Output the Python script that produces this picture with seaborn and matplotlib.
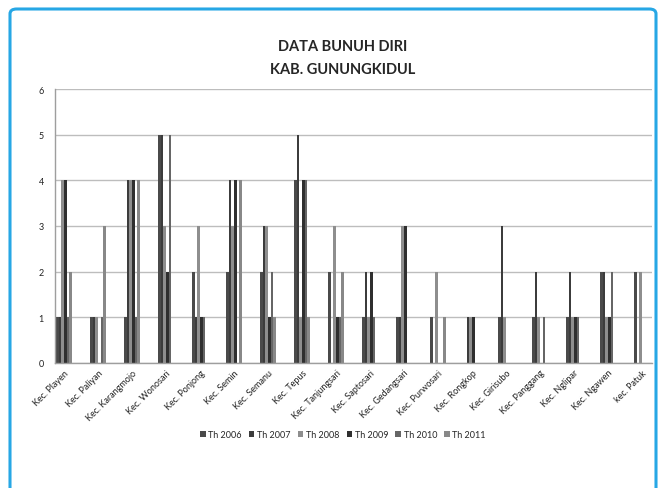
import matplotlib.pyplot as plt
import matplotlib.patches as patches
import pandas as pd
import seaborn as sns

kecamatan = [
    "Kec. Playen", "Kec. Paliyan", "Kec. Karangmojo", "Kec. Wonosari",
    "Kec. Ponjong", "Kec. Semin", "Kec. Semanu", "Kec. Tepus",
    "Kec. Tanjungsari", "Kec. Saptosari", "Kec. Gedangsari", "Kec. Purwosari",
    "Kec. Rongkop", "Kec. Girisubo", "Kec. Panggang", "Kec. Nglipar",
    "Kec. Ngawen", "kec. Patuk",
]
years = ["Th 2006", "Th 2007", "Th 2008", "Th 2009", "Th 2010", "Th 2011"]

th2006 = [1, 1, 1, 5, 2, 2, 2, 4, 2, 1, 1, 1, 0, 1, 1, 1, 2, 2]
th2007 = [1, 1, 4, 5, 1, 4, 3, 5, 0, 2, 1, 0, 1, 3, 2, 2, 2, 0]
th2008 = [4, 1, 4, 3, 3, 3, 3, 1, 3, 1, 3, 2, 1, 1, 1, 1, 1, 2]
th2009 = [4, 0, 4, 2, 1, 4, 1, 4, 1, 2, 3, 0, 1, 0, 0, 1, 1, 0]
th2010 = [1, 1, 1, 5, 1, 0, 2, 4, 1, 1, 0, 0, 0, 0, 1, 1, 2, 0]
th2011 = [2, 3, 4, 0, 0, 4, 1, 1, 2, 0, 0, 1, 0, 0, 0, 0, 0, 0]

colors = ["#4a4a4a", "#3c3c3c", "#8e8e8e", "#2f2f2f", "#666666", "#888888"]

series = [th2006, th2007, th2008, th2009, th2010, th2011]
rows = []
for year, vals in zip(years, series):
    for kec, v in zip(kecamatan, vals):
        rows.append({"kecamatan": kec, "tahun": year, "jumlah": v})
df = pd.DataFrame(rows)

sns.set_style("white")
plt.rcParams["font.family"] = ["Lato", "DejaVu Sans"]

fig = plt.figure(figsize=(6.63, 4.89), dpi=100)
ax = fig.add_axes([55 / 663, 1 - 364 / 489, 597 / 663, 274 / 489])

sns.barplot(
    data=df, x="kecamatan", y="jumlah", hue="tahun",
    palette=colors, width=0.47, errorbar=None, linewidth=0, ax=ax,
)

ax.set_ylim(0, 6)
ax.set_yticks(range(0, 7))
ax.set_xlim(-0.265, 17.29)
ax.yaxis.grid(True, color="#bdbdbd", linewidth=1)
ax.set_axisbelow(True)
ax.set_xlabel("")
ax.set_ylabel("")
for side in ["top", "right"]:
    ax.spines[side].set_visible(False)
for side in ["left", "bottom"]:
    ax.spines[side].set_color("#9e9e9e")
    ax.spines[side].set_linewidth(1)
ax.tick_params(axis="both", length=0, labelsize=6.5, colors="#222222")
ax.tick_params(axis="y", pad=8)
plt.setp(ax.get_xticklabels(), rotation=45, ha="right", rotation_mode="anchor")

ax.legend(
    loc="center", bbox_to_anchor=(343 / 663, 1 - 436 / 489),
    bbox_transform=fig.transFigure, ncol=6, frameon=False, fontsize=6.5,
    handlelength=0.6, handleheight=0.6, handletextpad=0.3, columnspacing=0.8,
)

fig.text(343 / 663, 1 - 47 / 489, "DATA BUNUH DIRI", ha="center", va="center",
         fontsize=10.5, fontweight="bold")
fig.text(343 / 663, 1 - 70 / 489, "KAB. GUNUNGKIDUL", ha="center", va="center",
         fontsize=10.5, fontweight="bold")

border = patches.FancyBboxPatch(
    (10 / 663, -0.02), 646 / 663, 1 - 10 / 489 + 0.02,
    boxstyle="round,pad=0,rounding_size=0.01",
    transform=fig.transFigure, fill=False, edgecolor="#27a7e5", linewidth=2.2,
)
fig.patches.append(border)

fig.savefig("out.png", dpi=100)
